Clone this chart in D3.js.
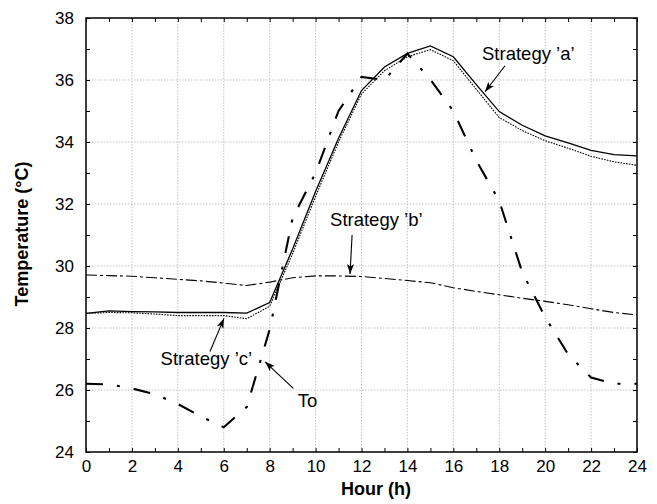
<!DOCTYPE html>
<html><head><meta charset="utf-8">
<script src="https://cdn.jsdelivr.net/npm/d3@7"></script>
<style>
body{margin:0;background:#fff}
text{font-family:"Liberation Sans",Arial,Helvetica,sans-serif;fill:#000}
</style>
</head><body>
<svg id="chart" width="657" height="504"></svg>
<script>
// ---- data ----
const hours = [0,1,2,3,4,5,6,7,8,9,10,11,12,13,14,15,16,17,18,19,20,21,22,23,24];
const strategyA = [28.47,28.55,28.53,28.52,28.5,28.5,28.5,28.48,28.82,30.55,32.4,34.12,35.66,36.42,36.86,37.1,36.75,35.85,34.98,34.54,34.2,33.97,33.73,33.59,33.55];
const strategyC = [28.47,28.5,28.49,28.45,28.4,28.4,28.4,28.3,28.7,30.4,32.25,34.0,35.55,36.3,36.75,36.98,36.62,35.7,34.79,34.37,34.04,33.8,33.54,33.36,33.25];
const strategyB = [29.71,29.69,29.67,29.62,29.57,29.52,29.45,29.37,29.48,29.62,29.68,29.68,29.66,29.6,29.53,29.46,29.3,29.18,29.07,28.96,28.86,28.75,28.62,28.5,28.42];
const outdoorTo = [26.2,26.18,26.05,25.86,25.55,25.15,24.8,25.45,27.95,31.55,33.0,35.0,36.1,36.0,36.85,36.02,35.0,33.4,32.1,29.8,28.35,27.15,26.4,26.2,26.2];
const xTicks = [0,2,4,6,8,10,12,14,16,18,20,22,24];
const yTicks = [24,26,28,30,32,34,36,38];
const annotations = [
  {label:"Strategy \u2019a\u2019", tx:17.25, ty:36.65, x1:18.25, y1:36.46, x2:17.38, y2:35.62},
  {label:"Strategy \u2019b\u2019", tx:10.63, ty:31.29, x1:11.59, y1:31.0, x2:11.5, y2:29.74},
  {label:"Strategy \u2019c\u2019", tx:3.25, ty:26.81, x1:5.4, y1:27.24, x2:6.01, y2:28.31},
  {label:"To", tx:9.22, ty:25.46, x1:9.03, y1:26.05, x2:7.8, y2:26.91}
];

// ---- layout ----
const L=86, R=637, T=18, B=452;
const svg = d3.select("#chart");
const x = d3.scaleLinear().domain([0,24]).range([L,R]);
const y = d3.scaleLinear().domain([24,38]).range([B,T]);

// grid
const grid = svg.append("g").attr("stroke","#b4b4b4").attr("stroke-width",0.8).attr("stroke-dasharray","1.5,1.5");
grid.selectAll("line.gx").data(xTicks.slice(1,-1)).join("line")
  .attr("x1",d=>x(d)).attr("x2",d=>x(d)).attr("y1",T).attr("y2",B);
grid.selectAll("line.gy").data(yTicks.slice(1,-1)).join("line")
  .attr("y1",d=>y(d)).attr("y2",d=>y(d)).attr("x1",L).attr("x2",R);

// axes with inward ticks
const xMinor = d3.range(0,25,1), yMinor = d3.range(24,39,1);
svg.append("g").attr("transform",`translate(0,${B})`)
  .call(d3.axisBottom(x).tickValues(xMinor).tickSize(-4).tickFormat(""))
  .call(g=>g.select(".domain").remove());
svg.append("g").attr("transform",`translate(0,${B})`)
  .call(d3.axisBottom(x).tickValues(xTicks).tickSize(0).tickPadding(8).tickFormat(d3.format("d")))
  .call(g=>g.select(".domain").remove())
  .call(g=>g.selectAll("text").style("font-size","17px").attr("dy","0.71em"));
svg.append("g").attr("transform",`translate(0,${T})`)
  .call(d3.axisTop(x).tickValues(xMinor).tickSize(-4).tickFormat(""))
  .call(g=>g.select(".domain").remove());
svg.append("g").attr("transform",`translate(${L},0)`)
  .call(d3.axisLeft(y).tickValues(yMinor).tickSize(-4).tickFormat(""))
  .call(g=>g.select(".domain").remove());
svg.append("g").attr("transform",`translate(${L},0)`)
  .call(d3.axisLeft(y).tickValues(yTicks).tickSize(0).tickPadding(12).tickFormat(d3.format("d")))
  .call(g=>g.select(".domain").remove())
  .call(g=>g.selectAll("text").style("font-size","17px"));
svg.append("g").attr("transform",`translate(${R},0)`)
  .call(d3.axisRight(y).tickValues(yMinor).tickSize(-4).tickFormat(""))
  .call(g=>g.select(".domain").remove());
svg.selectAll(".tick line").attr("stroke","#000");

// frame
svg.append("rect").attr("x",L).attr("y",T).attr("width",R-L).attr("height",B-T)
  .attr("fill","none").attr("stroke","#000").attr("stroke-width",1.5);

// lines
const line = d3.line().x((d,i)=>x(hours[i])).y(d=>y(d));
const series = [
  {v:outdoorTo, w:2.1, dash:"17,14,3,14"},
  {v:strategyB, w:1.1, dash:"11,3,3,3"},
  {v:strategyC, w:1.1, dash:"1.6,1.2"},
  {v:strategyA, w:1.3, dash:null}
];
svg.append("g").selectAll("path").data(series).join("path")
  .attr("d",d=>line(d.v)).attr("fill","none").attr("stroke","#000")
  .attr("stroke-width",d=>d.w).attr("stroke-dasharray",d=>d.dash);

// arrow marker
svg.append("defs").append("marker").attr("id","arr").attr("viewBox","0 0 10 10")
  .attr("refX",10).attr("refY",5).attr("markerWidth",10).attr("markerHeight",10)
  .attr("markerUnits","userSpaceOnUse").attr("orient","auto")
  .append("path").attr("d","M0,1.5 L10,5 L0,8.5 L2.5,5 Z").attr("fill","#000");

const ann = svg.append("g");
ann.selectAll("line").data(annotations).join("line")
  .attr("x1",d=>x(d.x1)).attr("y1",d=>y(d.y1)).attr("x2",d=>x(d.x2)).attr("y2",d=>y(d.y2))
  .attr("stroke","#000").attr("stroke-width",1.1).attr("marker-end","url(#arr)");
ann.selectAll("text").data(annotations).join("text")
  .attr("x",d=>x(d.tx)).attr("y",d=>y(d.ty)).style("font-size","18.5px").text(d=>d.label);

// axis titles
svg.append("text").attr("x",376).attr("y",495).attr("text-anchor","middle")
  .style("font-size","18px").style("font-weight","bold").text("Hour (h)");
svg.append("text").attr("transform",`translate(28,234) rotate(-90)`).attr("text-anchor","middle")
  .style("font-size","18px").style("font-weight","bold").text("Temperature (\u00B0C)");
</script>
</body></html>
